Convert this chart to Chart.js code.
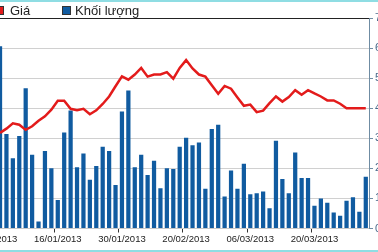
<!DOCTYPE html>
<html>
<head>
<meta charset="utf-8">
<script src="https://cdn.jsdelivr.net/npm/chart.js@4/dist/chart.umd.min.js"></script>
<style>
html,body{margin:0;padding:0;background:#fff;overflow:hidden;width:378px;height:252px;position:relative}
#wrap{position:absolute;left:-50px;top:0;width:439px;height:252px}
#topline{position:absolute;left:0;top:0;width:378px;height:2px;background:#8fdde3}
#botline{position:absolute;left:0;top:250px;width:378px;height:2px;background:#8fdde3}
.leg{position:absolute;top:3px;font:13px "Liberation Sans",Arial,sans-serif;color:#222;white-space:nowrap;line-height:15px}
.box{position:absolute;top:6px;width:7px;height:7px;border:1px solid #333}
</style>
</head>
<body>
<div id="wrap"><canvas id="c" width="439" height="252"></canvas></div>
<div id="topline"></div>
<div id="botline"></div>
<div class="box" style="left:-5px;background:#e31b1b"></div>
<span class="leg" style="left:10px">Giá</span>
<div class="box" style="left:62px;background:#105ba0"></div>
<span class="leg" style="left:75px">Khối lượng</span>
<script>
const categories = [
  '02/01/2013','03/01/2013','04/01/2013','07/01/2013','08/01/2013','09/01/2013','10/01/2013','11/01/2013','14/01/2013','15/01/2013',
  '16/01/2013','17/01/2013','18/01/2013','21/01/2013','22/01/2013','23/01/2013','24/01/2013','25/01/2013','28/01/2013','29/01/2013',
  '30/01/2013','31/01/2013','01/02/2013','04/02/2013','05/02/2013','06/02/2013','07/02/2013','08/02/2013','18/02/2013','19/02/2013',
  '20/02/2013','21/02/2013','22/02/2013','25/02/2013','26/02/2013','27/02/2013','28/02/2013','01/03/2013','04/03/2013','05/03/2013',
  '06/03/2013','07/03/2013','08/03/2013','11/03/2013','12/03/2013','13/03/2013','14/03/2013','15/03/2013','18/03/2013','19/03/2013',
  '20/03/2013','21/03/2013','22/03/2013','25/03/2013','26/03/2013','27/03/2013','28/03/2013','29/03/2013','01/04/2013'
];
const tickLabels = ['02/01/2013','16/01/2013','30/01/2013','20/02/2013','06/03/2013','20/03/2013'];
const price = [null,
  3.18,3.32,3.50,3.45,3.28,3.40,3.58,3.73,3.95,4.25,
  4.25,3.98,3.93,3.98,3.80,3.93,4.14,4.39,4.73,5.06,
  4.95,5.12,5.34,5.05,5.12,5.12,5.20,4.98,5.34,5.60,
  5.32,5.12,5.05,4.76,4.48,4.74,4.65,4.36,4.08,4.12,
  3.87,3.92,4.17,4.39,4.22,4.37,4.60,4.45,4.60,4.49,
  4.39,4.26,4.26,4.15,4.00,4.00,4.00,4.00];
const volume = [null,
  6.06,3.14,2.34,3.08,4.66,2.45,0.23,2.58,2.00,0.95,
  3.19,3.92,2.04,2.49,1.62,2.08,2.72,2.58,1.45,3.89,
  4.59,2.04,2.45,1.78,2.25,1.34,2.00,1.98,2.72,3.02,
  2.77,2.86,1.32,3.31,3.45,1.06,1.93,1.32,2.15,1.14,
  1.17,1.23,0.67,2.92,1.65,1.17,2.53,1.68,1.68,0.76,
  1.00,0.86,0.53,0.42,0.92,1.04,0.56,1.72];
const yMin = 0, yMax = 7, yStep = 1;

new Chart(document.getElementById('c'), {
  type: 'bar',
  data: {
    labels: categories,
    datasets: [
      {type:'line', label:'Giá', data:price, borderColor:'#e31b1b', backgroundColor:'#e31b1b',
       borderWidth:2.5, pointRadius:0, tension:0, order:0, yAxisID:'y'},
      {type:'bar', label:'Khối lượng', data:volume, backgroundColor:'#105ba0',
       barPercentage:0.66, categoryPercentage:1, order:1, yAxisID:'y'}
    ]
  },
  options: {
    responsive:false, animation:false, devicePixelRatio:1,
    layout:{padding:{left:40.4, top:18, right:0, bottom:0}},
    plugins:{legend:{display:false}, tooltip:{enabled:false}},
    scales:{
      x:{
        type:'category', offset:true,
        grid:{display:true, drawOnChartArea:false, tickLength:4,
          color:(c)=> tickLabels.includes(categories[c.index]) ? '#333' : 'rgba(0,0,0,0)'},
        border:{display:true, color:'#c8c8c8'},
        ticks:{autoSkip:false, maxRotation:0, minRotation:0, padding:1, color:'#222',
          font:{family:'Liberation Sans', size:9.5},
          callback:(v,i)=> tickLabels.includes(categories[i]) ? categories[i] : ''},
        afterFit:(s)=>{ s.height = 23.5; }
      },
      y:{
        position:'right', min:yMin, max:yMax,
        ticks:{stepSize:yStep, color:'#4a6a8a', padding:2, font:{family:'Liberation Sans', size:11}},
        grid:{color:(c)=> c.tick && c.tick.value===7 ? '#222' : '#d0d0d0', tickColor:'#6f8ca3', tickLength:4},
        border:{display:true, color:'#6f8ca3'},
        afterFit:(s)=>{ s.width = 20; }
      }
    }
  }
});
</script>
</body>
</html>
